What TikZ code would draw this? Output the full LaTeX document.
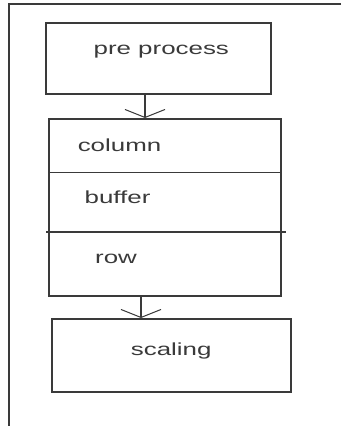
\documentclass[tikz,border=0pt]{standalone}
\usepackage{fontspec}
\setmainfont{Liberation Sans}
\usetikzlibrary{arrows.meta}
\definecolor{ink}{HTML}{3A3A3A}
\newcommand{\widetxt}[1]{\scalebox{1.48}[1]{#1}}
\tikzset{
  box/.style={draw=ink, line width=2pt, rectangle, inner sep=0pt},
  lbl/.style={font=\fontsize{17.5}{20}\selectfont, text=ink, inner sep=0pt, anchor=base},
  divider/.style={draw=ink, line width=1.3pt},
  frameline/.style={draw=ink, line width=2pt},
  flow/.style={draw=ink, line width=1.8pt,
    -{Straight Barb[length=8pt, width=40pt, line width=1pt]}},
}
\begin{document}
\begin{tikzpicture}[x=1pt, y=-1pt]
  \useasboundingbox (0,0) rectangle (341,426);
  % outer frame: top and left edges only
  \coordinate (ftop) at (341,4.3);
  \coordinate (fcorner) at (9,4.3);
  \coordinate (fbot) at (9,426);
  \draw[frameline] (ftop) -- (fcorner) -- (fbot);

  % boxes
  \node[box, minimum width=225pt, minimum height=71pt] (pre) at (158.5,58.5) {};
  \node[box, minimum width=232pt, minimum height=177pt] (mid) at (165,207.5) {};
  \node[box, minimum width=239pt, minimum height=73pt] (scal) at (171.5,355.5) {};

  % dividers of the buffer box
  \coordinate (d1l) at (49,172.7);
  \coordinate (d1r) at (281,172.7);
  \coordinate (d2l) at (46,232);
  \coordinate (d2r) at (286,232);
  \draw[divider] (d1l) -- (d1r);
  \draw[divider] (d2l) -- (d2r);

  % labels
  \node[lbl] (tpre) at (161.3,54) {\widetxt{pre process}};
  \node[lbl] (tcol) at (119.5,151.7) {\widetxt{column}};
  \node[lbl] (tbuf) at (117.5,203.3) {\widetxt{buffer}};
  \node[lbl] (trow) at (116,263) {\widetxt{row}};
  \node[lbl] (tsca) at (171.2,355.7) {\widetxt{scaling}};

  % connectors
  \draw[flow] ([xshift=-13.5pt]pre.south) -- ([xshift=-13.5pt]pre.south |- mid.north);
  \draw[flow] ([xshift=-24pt]mid.south) -- ([xshift=-24pt]mid.south |- scal.north);
\end{tikzpicture}
\end{document}
